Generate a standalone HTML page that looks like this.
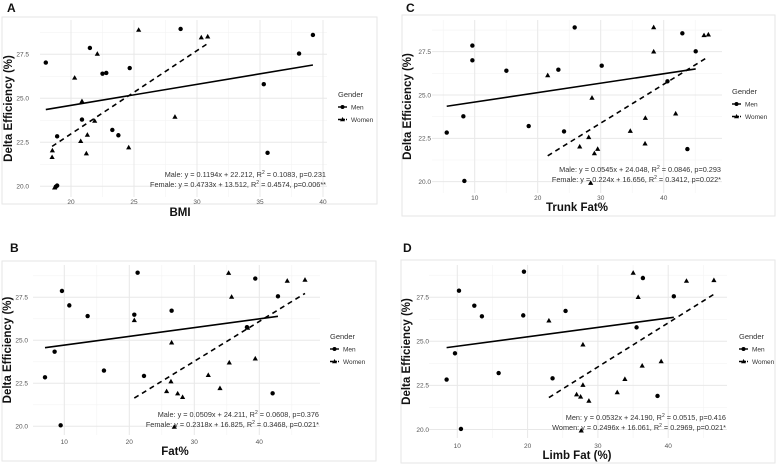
<!DOCTYPE html>
<html><head><meta charset="utf-8">
<style>
html,body{margin:0;padding:0;background:#fff;}
svg{display:block;font-family:"Liberation Sans",Arial,sans-serif;}
</style></head>
<body>
<svg id="fig" width="778" height="466" viewBox="0 0 778 466" xmlns="http://www.w3.org/2000/svg"></svg>
<script>
// ---------- DATA ----------
const aMenX=[18.0,21.5,22.5,22.8,24.66,28.7,20.87,18.9,23.28,23.76,18.9,18.8,38.1,39.2,35.3,35.6];
const aMenY=[27.03,27.86,26.4,26.44,26.72,28.94,23.79,22.84,23.2,22.9,20.04,19.98,27.54,28.6,25.8,21.9];
const aWomX=[25.37,30.34,30.85,22.09,20.29,20.87,21.88,21.3,20.77,21.22,18.52,18.5,18.7,24.58,28.25];
const aWomY=[28.88,28.45,28.5,27.52,26.16,24.83,23.71,22.92,22.56,21.86,22.03,21.65,19.92,22.2,23.94];
const aTicksX=[20,25,30,35,40];
const aEq=["Male: y = 0.1194x + 22.212, R","2"," = 0.1083, p=0.231","Female: y = 0.4733x + 13.512, R","2"," = 0.4574, p=0.006**"];
const aCoef=[0.1194,22.212,0.4733,13.512];

const bMenX=[7.03,8.51,9.44,9.64,10.77,13.59,16.1,20.77,21.28,22.26,26.51,38.1,39.38,42.87,42.05];
const bMenY=[22.85,24.34,20.06,27.87,27.03,26.41,23.24,26.49,28.93,22.93,26.72,25.76,28.59,27.56,21.92];
const bWomX=[20.77,26.51,26.41,25.74,27.44,28.2,26.92,32.15,33.95,35.38,39.38,35.28,35.74,44.3,47.03,38.2];
const bWomY=[26.16,24.86,22.6,22.03,21.9,21.69,19.96,22.97,22.21,23.7,23.93,28.91,27.52,28.45,28.51,25.72];
const bTicksX=[10,20,30,40];
const bEq=["Male: y = 0.0509x + 24.211, R","2"," = 0.0608, p=0.376","Female: y = 0.2318x + 16.825, R","2"," = 0.3468, p=0.021*"];
const bCoef=[0.0509,24.211,0.2318,16.825];

const cMenX=[5.56,8.2,8.36,9.63,9.63,15.03,18.57,23.28,24.18,25.87,30.16,40.6,42.96,45.08,43.76];
const cMenY=[22.83,23.77,20.04,27.85,27.0,26.4,23.21,26.46,22.9,28.9,26.69,25.79,28.56,27.52,21.88];
const cWomX=[21.59,28.62,28.1,26.67,29.0,29.52,28.41,34.7,37.09,37.04,41.9,38.41,38.41,46.4,47.09];
const cWomY=[26.13,24.83,22.56,22.02,21.63,21.88,19.92,22.92,23.67,22.19,23.92,28.9,27.5,28.44,28.48];
const cTicksX=[10,20,30,40];
const cEq=["Male: y = 0.0545x + 24.048, R","2"," = 0.0846, p=0.293","Female: y = 0.224x + 16.656, R","2"," = 0.3412, p=0.022*"];
const cCoef=[0.0545,24.048,0.224,16.656];

const dMenX=[8.48,9.67,10.52,10.24,12.42,13.5,15.88,19.38,19.48,23.55,25.4,35.5,36.4,40.8,38.48];
const dMenY=[22.83,24.32,20.03,27.87,27.02,26.42,23.2,26.47,28.95,22.9,26.72,25.79,28.59,27.55,21.9];
const dWomX=[23.03,27.87,27.87,26.97,27.54,28.72,27.63,32.75,33.84,36.3,39.0,35.02,35.73,42.6,46.5];
const dWomY=[26.17,24.81,22.52,21.98,21.85,21.62,19.93,22.1,22.85,23.61,23.86,28.88,27.5,28.42,28.46];
const dTicksX=[10,20,30,40];
const dEq=["Men: y = 0.0532x + 24.190, R","2"," = 0.0515, p=0.416","Women: y = 0.2496x + 16.061, R","2"," = 0.2969, p=0.021*"];
const dCoef=[0.0532,24.190,0.2496,16.061];

const yTicks=[20.0,22.5,25.0,27.5];

// ---------- LAYOUT ----------
const NS="http://www.w3.org/2000/svg";
const fig=document.getElementById('fig');
function mk(tag,attrs,parent){const e=document.createElementNS(NS,tag);for(const k in attrs)e.setAttribute(k,attrs[k]);(parent||fig).appendChild(e);return e;}

function panel(cfg){
  const g=mk('g',{transform:`translate(${cfg.ox},${cfg.oy})`});
  
  
  const X=v=>cfg.xp+(v-cfg.xv)*cfg.xs;
  const Y=v=>cfg.yp-(v-25)*cfg.ys;
  const bd=mk('rect',{x:cfg.bx[0],y:cfg.by[0],width:cfg.bx[1]-cfg.bx[0],height:cfg.by[1]-cfg.by[0],fill:'#fff',stroke:'#e6e6e6','stroke-width':1},g);
  
  
  const lt=mk('text',{x:cfg.lx,y:cfg.ly,'font-size':12,'font-weight':'bold',fill:'#111'},g);
  lt.textContent=cfg.id.toUpperCase();
  
  
  const [l,r,t,b]=cfg.grid;
  const step=cfg.ticksX[1]-cfg.ticksX[0];
  for(let v=cfg.ticksX[0]-step/2;v<=cfg.ticksX[cfg.ticksX.length-1]+step/2+1e-6;v+=step){
    const px=X(v); if(px<l||px>r)continue;
    const ln=mk('line',{x1:px,x2:px,y1:t,y2:b,stroke:'#f3f3f3','stroke-width':0.6},g);
    
    
  }
  for(let v=18.75;v<=30;v+=2.5){
    const py=Y(v); if(py<t||py>b)continue;
    const ln=mk('line',{x1:l,x2:r,y1:py,y2:py,stroke:'#f3f3f3','stroke-width':0.6},g);
    
    
  }
  cfg.ticksX.forEach(v=>{
    const px=X(v);
    const ln=mk('line',{x1:px,x2:px,y1:t,y2:b,stroke:'#e8e8e8','stroke-width':1},g);
    
    
    const tx=mk('text',{x:px,y:cfg.xly,'font-size':6.5,fill:'#555','text-anchor':'middle'},g);
    tx.textContent=v;
    
    
  });
  yTicks.forEach(v=>{
    const py=Y(v);
    const ln=mk('line',{x1:l,x2:r,y1:py,y2:py,stroke:'#e8e8e8','stroke-width':1},g);
    
    
    const tx=mk('text',{x:cfg.ylx,y:py+2.3,'font-size':6.5,fill:'#555','text-anchor':'end'},g);
    tx.textContent=v.toFixed(1);
    
    
  });
  const mx0=Math.min(...cfg.menX),mx1=Math.max(...cfg.menX);
  const wx0=Math.min(...cfg.womX),wx1=Math.max(...cfg.womX);
  const c=cfg.coef;
  const ml=mk('line',{x1:X(mx0),y1:Y(c[0]*mx0+c[1]),x2:X(mx1),y2:Y(c[0]*mx1+c[1]),stroke:'#000','stroke-width':1.6},g);
  
  
  const wl=mk('line',{x1:X(wx0),y1:Y(c[2]*wx0+c[3]),x2:X(wx1),y2:Y(c[2]*wx1+c[3]),stroke:'#000','stroke-width':1.6,'stroke-dasharray':'5,4'},g);
  
  
  cfg.menX.forEach((v,i)=>{
    const p=mk('circle',{cx:X(v),cy:Y(cfg.menY[i]),r:2.2,fill:'#000'},g);
    
    
  });
  cfg.womX.forEach((v,i)=>{
    const px=X(v),py=Y(cfg.womY[i]);
    const p=mk('polygon',{points:`${px},${py-2.8} ${px-2.6},${py+1.8} ${px+2.6},${py+1.8}`,fill:'#000'},g);
    
    
  });
  [0,1].forEach(k=>{
    const tx=mk('text',{x:r-1,y:cfg.eqy[k],'font-size':7.3,fill:'#333','text-anchor':'end'},g);
    const a=mk('tspan',{},tx);a.textContent=cfg.eq[k*3];
    const s=mk('tspan',{dy:-3,'font-size':5},tx);s.textContent=cfg.eq[k*3+1];
    const z=mk('tspan',{dy:3},tx);z.textContent=cfg.eq[k*3+2];
    
    
  });
  const xt=mk('text',{x:cfg.xtx,y:cfg.xty,'font-size':11.5,'font-weight':'bold',fill:'#111','text-anchor':'middle'},g);
  xt.textContent=cfg.xtitle;
  
  
  const yc=(t+b)/2;
  const yt=mk('text',{x:0,y:0,'font-size':11.5,'font-weight':'bold',fill:'#111','text-anchor':'middle',transform:`translate(${cfg.ytx},${yc}) rotate(-90)`},g);
  yt.textContent='Delta Efficiency (%)';
  
  
  const [gx,gy]=cfg.leg;
  const lg=mk('g',{},g);
  
  
  const gt=mk('text',{x:gx,y:gy,'font-size':7.5,fill:'#333'},lg);gt.textContent='Gender';
  
  
  ['Men','Women'].forEach((n,k)=>{
    const yy=gy+12.5+k*12.5;
    const e=mk('g',{},lg);
    
    
    mk('line',{x1:gx,x2:gx+9,y1:yy-2.5,y2:yy-2.5,stroke:'#000','stroke-width':1.4,'stroke-dasharray':k?'3,1':'none'},e);
    if(k===0) mk('circle',{cx:gx+4.5,cy:yy-2.5,r:2,fill:'#000'},e);
    else mk('polygon',{points:`${gx+4.5},${yy-5} ${gx+2},${yy-0.8} ${gx+7},${yy-0.8}`,fill:'#000'},e);
    const tx=mk('text',{x:gx+13,y:yy,'font-size':6.5,fill:'#333'},e);tx.textContent=n;
  });
}

panel({id:'a',ox:0,oy:0,xv:20,xp:71,xs:12.6,yp:98.3,ys:17.6,grid:[40,327,20,197],bx:[2,377],by:[17,204],lx:7,ly:12,
  ticksX:aTicksX,xly:204,ylx:29,menX:aMenX,menY:aMenY,womX:aWomX,womY:aWomY,coef:aCoef,eq:aEq,eqy:[177,187],
  xtitle:'BMI',xtx:180,xty:216,ytx:12,leg:[338,97]});
panel({id:'c',ox:389,oy:0,xv:10,xp:85.7,xs:6.3,yp:95,ys:17.33,grid:[43,333,20,193],bx:[13,386],by:[15,216],lx:17,ly:12,
  ticksX:cTicksX,xly:200,ylx:42,menX:cMenX,menY:cMenY,womX:cWomX,womY:cWomY,coef:cCoef,eq:cEq,eqy:[172,182],
  xtitle:'Trunk Fat%',xtx:188,xty:211,ytx:22,leg:[343,94]});
panel({id:'b',ox:0,oy:233,xv:10,xp:64.3,xs:6.5,yp:107.3,ys:17.2,grid:[33,320,32,202],bx:[2,376],by:[28,228],lx:10,ly:19,
  ticksX:bTicksX,xly:211,ylx:28,menX:bMenX,menY:bMenY,womX:bWomX,womY:bWomY,coef:bCoef,eq:bEq,eqy:[184,194],
  xtitle:'Fat%',xtx:175,xty:222,ytx:11,leg:[330,106]});
panel({id:'d',ox:389,oy:233,xv:10,xp:68.3,xs:7.03,yp:108.3,ys:17.63,grid:[40,338,32,205],bx:[12,386],by:[27,230],lx:14,ly:19,
  ticksX:dTicksX,xly:215,ylx:40,menX:dMenX,menY:dMenY,womX:dWomX,womY:dWomY,coef:dCoef,eq:dEq,eqy:[187,197],
  xtitle:'Limb Fat (%)',xtx:188,xty:226,ytx:21,leg:[350,106]});
</script>
</body></html>
